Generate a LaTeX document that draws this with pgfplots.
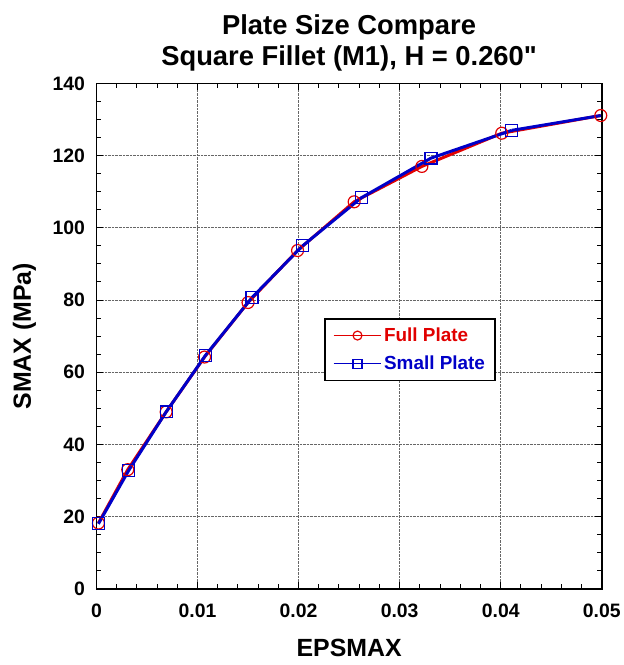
\documentclass[border=0pt]{standalone}
\usepackage{fontspec}
\setmainfont{Liberation Sans}[Ligatures=TeXOff]
\usepackage{pgfplots}
\pgfplotsset{compat=1.18}
\definecolor{fullred}{RGB}{225,0,0}
\definecolor{smallblue}{RGB}{0,0,200}
\begin{document}
\begin{tikzpicture}
\begin{axis}[
    scale only axis,
    width=508pt, height=508pt,
    xmin=0, xmax=0.05, ymin=0, ymax=140,
    xtick={0,0.01,0.02,0.03,0.04,0.05},
    ytick={0,20,...,140},
    minor x tick num=4,
    minor y tick num=3,
    tick align=inside,
    major tick length=7pt,
    minor tick length=5pt,
    tick style={black, line width=1pt},
    axis line style={line width=1.6pt},
    grid=major,
    major grid style={black!60, densely dotted, line width=1pt},
    scaled x ticks=false,
    xticklabel style={/pgf/number format/fixed, /pgf/number format/precision=2, yshift=-12pt},
    yticklabel style={xshift=-8pt},
    /pgf/number format/assume math mode=true,
    ticklabel style={font=\bfseries\fontsize{19.5}{21}\selectfont},
    xlabel={EPSMAX}, ylabel={SMAX (MPa)},
    label style={font=\bfseries\fontsize{25}{28}\selectfont},
    xlabel style={inner ysep=8pt, yshift=-10pt},
    ylabel style={inner ysep=13pt, yshift=0pt},
    title={Plate Size Compare\\Square Fillet (M1), H = 0.260"},
    title style={font=\bfseries\fontsize{27.5}{31}\selectfont, align=center,
        inner ysep=15pt, yshift=-9pt},
    legend style={at={(0.451,0.535)}, anchor=north west, draw=black, line width=1.2pt,
        font=\bfseries\fontsize{19}{21}\selectfont, row sep=9pt, inner xsep=8pt, inner ysep=7pt},
    legend cell align=left,
    legend image code/.code={
        \draw[mark repeat=2, mark phase=2, #1, line width=1.5pt, mark size=4.5pt]
            plot coordinates {(0pt,0pt) (24pt,0pt) (48pt,0pt)};
    },
]
\addplot[fullred, line width=3pt, mark=o, mark size=6pt,
    mark options={fill=white, line width=1.2pt}]
coordinates {
    (0.0002,18.2) (0.0031,33) (0.0069,49) (0.0107,64.2) (0.0150,79.3)
    (0.0199,93.7) (0.0255,107.2) (0.0322,117) (0.0401,126.2) (0.0499,131.1)
};
\addlegendentry{\textcolor{fullred}{Full Plate}}
\addplot[smallblue, line width=3pt, forget plot]
coordinates {
    (0.0411,127) (0.0499,131.1)
};
\addplot[smallblue, line width=3pt, mark=square, mark size=6pt,
    mark options={fill=white, line width=1.2pt}]
coordinates {
    (0.0002,18) (0.0032,32.8) (0.0069,49) (0.0108,64.7) (0.0154,80.7)
    (0.0204,95) (0.0262,108.3) (0.0331,119.3) (0.0411,127)
};
\addlegendentry{\textcolor{smallblue}{Small Plate}}
\end{axis}
\end{tikzpicture}
\end{document}
